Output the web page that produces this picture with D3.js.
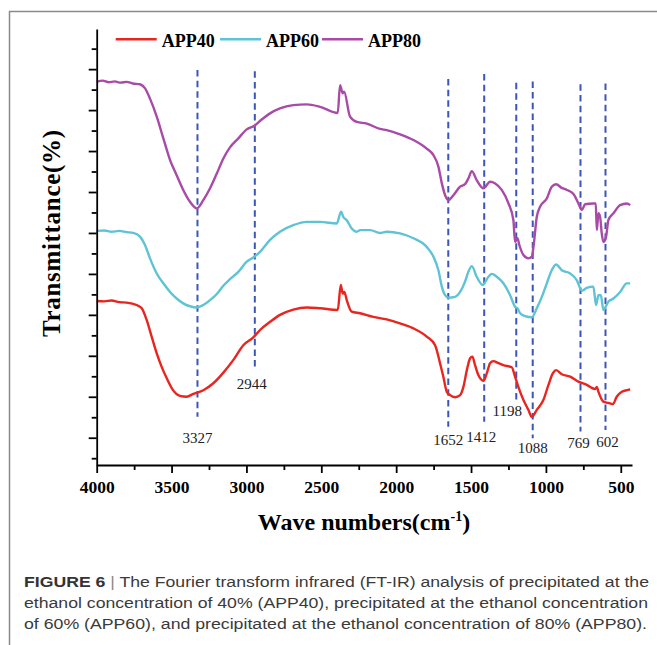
<!DOCTYPE html>
<html>
<head>
<meta charset="utf-8">
<script src="https://cdn.jsdelivr.net/npm/d3@7"></script>
<style>
  body { margin: 0; background: #fff; }
  svg text { font-family: "Liberation Serif", "Times New Roman", serif; }
  .axis path, .axis line { stroke: #000; stroke-width: 1.8px; }
  svg text.caption { font-family: "Liberation Sans", Arial, sans-serif; fill: #3a3a3a; }
</style>
</head>
<body>
<svg id="chart" width="657" height="645"></svg>
<script>
// FT-IR spectra: [wave number (cm-1), transmittance (a.u.)]
var app40 = [[4000,33.4],[3950,33.3],[3900,33.5],[3850,33.1],[3800,33.0],[3733,32.4],[3699,31.6],[3666,28.7],
  [3633,24.7],[3599,20.6],[3566,17.3],[3532,14.5],[3488,11.5],[3444,10.2],[3399,10.0],[3355,10.7],[3288,11.6],
  [3221,13.3],[3154,15.9],[3087,19.0],[3021,22.6],[2954,24.5],[2909,26.3],[2842,28.3],[2776,30.0],[2687,31.3],
  [2597,31.8],[2508,31.6],[2390,31.2],[2370,37.3],[2357,35.2],[2346,35.6],[2330,33.6],[2297,30.8],[2241,30.4],
  [2152,29.5],[2063,28.9],[1974,27.9],[1885,26.7],[1796,24.7],[1740,22.6],[1707,18.2],[1685,14.9],[1662,11.2],
  [1640,10.4],[1607,9.9],[1573,10.4],[1551,12.4],[1528,16.5],[1506,19.4],[1491,19.8],[1473,17.7],[1451,15.3],
  [1417,13.9],[1395,15.7],[1373,18.2],[1351,18.7],[1317,18.2],[1284,17.7],[1228,17.2],[1206,14.9],[1184,12.4],
  [1150,9.2],[1117,6.8],[1094,5.1],[1061,6.8],[1017,9.2],[983,12.9],[954,15.7],[932,16.5],[894,15.5],[838,14.9],
  [783,13.7],[727,12.9],[671,11.9],[660,12.4],[649,11.2],[616,8.8],[583,8.5],[553,8.2],[527,10.0],[493,11.2],
  [460,11.6],[437,11.8]];

var app60 = [[4000,50.5],[3950,50.6],[3900,50.3],[3850,50.5],[3800,50.2],[3756,50.0],[3711,49.1],[3677,47.0],
  [3644,43.8],[3599,40.1],[3555,37.7],[3510,35.6],[3466,34.0],[3422,32.8],[3377,32.1],[3332,31.8],[3288,32.4],
  [3243,33.6],[3198,35.1],[3154,37.1],[3110,38.7],[3054,40.5],[2998,43.0],[2954,44.0],[2909,45.4],[2842,48.3],
  [2776,50.3],[2687,51.9],[2597,52.7],[2508,52.7],[2397,52.3],[2368,55.2],[2353,53.9],[2330,53.1],[2297,51.1],
  [2263,50.3],[2241,50.7],[2174,50.7],[2108,50.0],[2063,50.3],[1974,49.9],[1885,48.7],[1796,46.6],[1751,44.2],
  [1718,40.9],[1695,36.9],[1673,34.8],[1651,34.2],[1607,34.4],[1573,35.6],[1540,38.1],[1518,40.5],[1495,41.9],
  [1462,39.3],[1422,37.3],[1384,39.3],[1361,40.0],[1328,39.3],[1284,37.7],[1239,34.8],[1206,32.0],[1190,31.6],
  [1172,30.4],[1139,29.7],[1094,29.4],[1061,31.6],[1027,34.4],[994,37.7],[961,40.9],[932,42.3],[894,40.9],
  [838,40.1],[794,38.5],[760,35.9],[727,36.6],[683,36.9],[665,32.4],[649,34.8],[633,34.8],[616,31.2],[583,33.2],
  [549,34.0],[504,35.6],[460,37.7],[437,37.7]];

var app80 = [[4000,86.9],[3960,87.2],[3920,86.8],[3880,87.0],[3840,86.7],[3800,86.9],[3760,86.5],[3711,86.3],
  [3677,85.3],[3644,82.8],[3599,78.4],[3555,73.1],[3510,67.8],[3466,64.1],[3422,60.5],[3377,57.6],[3332,56.0],
  [3288,58.0],[3243,60.9],[3198,64.5],[3154,68.2],[3110,70.9],[3054,73.1],[2998,75.3],[2947,76.2],[2898,77.7],
  [2842,79.2],[2776,80.4],[2687,81.2],[2597,81.4],[2508,80.8],[2390,79.3],[2375,86.1],[2357,84.1],[2348,84.5],
  [2308,78.4],[2263,77.1],[2196,76.7],[2108,75.4],[2063,75.1],[1974,74.1],[1885,72.7],[1796,70.6],[1751,69.0],
  [1718,66.2],[1695,62.1],[1673,59.2],[1651,58.0],[1618,59.2],[1573,61.3],[1540,61.9],[1518,63.3],[1495,65.1],
  [1462,62.9],[1417,60.9],[1373,62.5],[1339,62.1],[1295,60.5],[1250,57.2],[1217,53.1],[1206,47.8],[1190,48.7],
  [1177,47.0],[1150,44.6],[1117,43.8],[1094,44.2],[1083,46.6],[1061,53.9],[1039,56.4],[994,58.4],[961,61.3],
  [932,61.9],[894,61.0],[860,60.5],[816,59.5],[783,57.2],[760,55.6],[738,57.0],[683,57.2],[667,57.2],[660,50.7],
  [649,54.8],[638,53.9],[627,49.9],[616,47.8],[598,49.1],[583,53.1],[549,54.8],[504,56.8],[460,57.2],[437,56.8]];

var seriesNames = ["APP40", "APP60", "APP80"];
var seriesColors = ["#e8251f", "#5fc3d6", "#a94ba6"];
var peakWaves = [3327, 2944, 1652, 1412, 1198, 1088, 769, 602];
var xTicks = [4000, 3500, 3000, 2500, 2000, 1500, 1000, 500];

// dashed marker layout: top / bottom (y units), label baseline (y units), label dx (px)
var peakLayout = [[89.8, 5.1, -1.3, 0], [89.5, 17.3, 11.9, -3], [87.6, 2.7, -1.8, 0], [88.8, 3.9, -1.0, -3],
  [86.7, 9.2, 5.4, -9], [87.0, -0.1, -3.7, 0], [86.3, 1.5, -2.5, -2], [86.5, 1.9, -2.3, 2]];

var svg = d3.select("#chart");

// figure frame
svg.append("path")
    .attr("d", "M9.5,645V11.5H657")
    .attr("fill", "none")
    .attr("stroke", "#8a8a8a")
    .attr("stroke-width", 1.5);

var x = d3.scaleLinear().domain([4000, 425]).range([96.7, 632]);
var y = d3.scaleLinear().domain([-6.66, 99.8]).range([465, 29]);

// peak markers
var peaks = svg.append("g");
peakWaves.forEach(function(w, i) {
  var p = peakLayout[i];
  peaks.append("line")
      .attr("x1", x(w)).attr("x2", x(w))
      .attr("y1", y(p[0])).attr("y2", y(p[1]))
      .attr("stroke", "#3c56b6")
      .attr("stroke-width", 2)
      .attr("stroke-dasharray", "6.5,4.2");
  peaks.append("text")
      .attr("x", x(w) + p[3])
      .attr("y", y(p[2]))
      .attr("text-anchor", "middle")
      .attr("font-size", 15)
      .attr("fill", "#222")
      .text(w);
});

// spectra
var line = d3.line()
    .x(function(d) { return x(d[0]); })
    .y(function(d) { return y(d[1]); })
    .curve(d3.curveMonotoneX);

[app40, app60, app80].forEach(function(s, i) {
  svg.append("path")
      .datum(s)
      .attr("fill", "none")
      .attr("stroke", seriesColors[i])
      .attr("stroke-width", 2.4)
      .attr("stroke-linejoin", "round")
      .attr("d", line);
});

// axes
svg.append("g")
    .attr("class", "axis")
    .attr("transform", "translate(0,465)")
    .call(d3.axisBottom(x).tickValues(d3.range(3750, 600, -500)).tickSize(5).tickFormat(""))
    .call(function(g) { g.select(".domain").remove(); });

var xAxis = svg.append("g")
    .attr("class", "axis")
    .attr("transform", "translate(0,465)")
    .call(d3.axisBottom(x).tickValues(xTicks).tickSize(8).tickSizeOuter(0).tickPadding(8).tickFormat(d3.format("d")));
xAxis.selectAll("text")
    .attr("font-size", 17.5)
    .attr("font-weight", "bold")
    .attr("fill", "#000");

svg.append("g")
    .attr("class", "axis")
    .attr("transform", "translate(96.7,0)")
    .call(d3.axisLeft(y).tickValues(d3.range(-5, 96, 10)).tickSize(5).tickFormat(""))
    .call(function(g) { g.select(".domain").remove(); });

svg.append("g")
    .attr("class", "axis")
    .attr("transform", "translate(96.7,0)")
    .call(d3.axisLeft(y).tickValues(d3.range(0, 91, 10)).tickSize(8).tickSizeOuter(0).tickFormat(""));

// axis titles
var xt = svg.append("text")
    .attr("x", 364)
    .attr("y", 530)
    .attr("text-anchor", "middle")
    .attr("font-size", 24)
    .attr("font-weight", "bold");
xt.append("tspan").text("Wave numbers(cm");
xt.append("tspan").attr("dy", -9).attr("font-size", 14).text("-1");
xt.append("tspan").attr("dy", 9).text(")");

svg.append("text")
    .attr("transform", "translate(60,233.5) rotate(-90)")
    .attr("text-anchor", "middle")
    .attr("font-size", 25)
    .attr("font-weight", "bold")
    .attr("textLength", 207)
    .attr("lengthAdjust", "spacing")
    .text("Transmittance(%)");

// legend
var legend = svg.append("g");
var legendX = [115.7, 220, 322];
seriesNames.forEach(function(name, i) {
  legend.append("line")
      .attr("x1", legendX[i]).attr("x2", legendX[i] + 41)
      .attr("y1", 39.3).attr("y2", 39.3)
      .attr("stroke", seriesColors[i])
      .attr("stroke-width", 2.6);
  legend.append("text")
      .attr("x", legendX[i] + 46)
      .attr("y", 46.5)
      .attr("font-size", 18)
      .attr("font-weight", "bold")
      .text(name);
});

// caption
var captionLines = [
  "The Fourier transform infrared (FT-IR) analysis of precipitated at the",
  "ethanol concentration of 40% (APP40), precipitated at the ethanol concentration",
  "of 60% (APP60), and precipitated at the ethanol concentration of 80% (APP80)."
];
var captionEnd = [649, 648, 647];
captionLines.forEach(function(t, i) {
  var c = svg.append("text")
      .attr("class", "caption")
      .attr("x", 24)
      .attr("y", 587 + i * 21)
      .attr("font-size", 15.5)
      .attr("textLength", captionEnd[i] - 24)
      .attr("lengthAdjust", "spacingAndGlyphs");
  if (i === 0) {
    c.append("tspan").attr("font-weight", "bold").attr("fill", "#333").text("FIGURE 6");
    c.append("tspan").attr("fill", "#888").text(" | ");
  }
  c.append("tspan").text(t);
});
</script>
</body>
</html>
